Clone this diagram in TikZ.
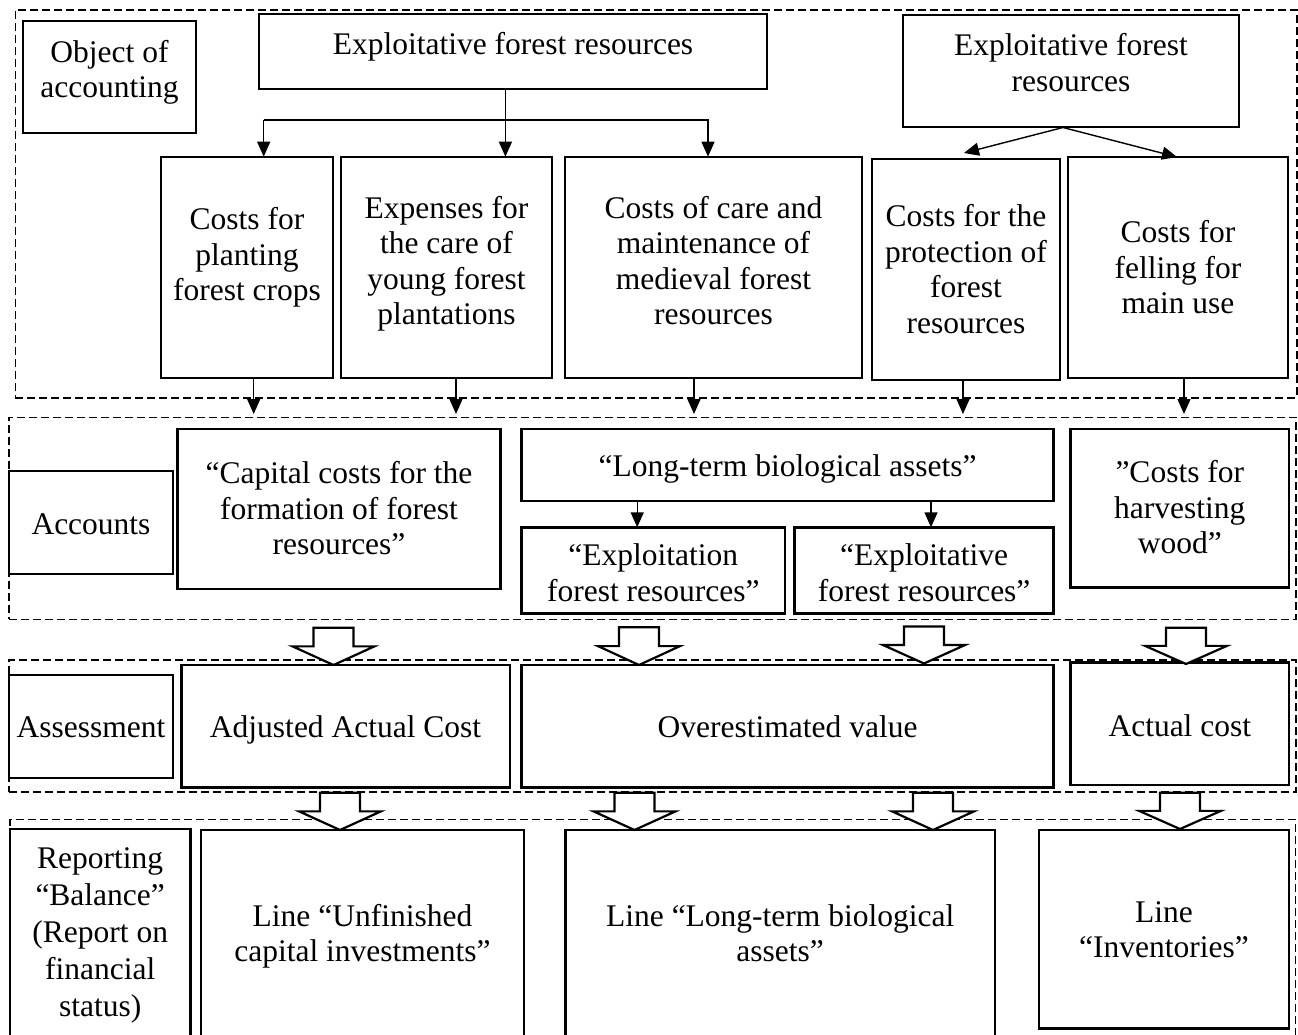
\documentclass[tikz,border=0pt]{standalone}
\usepackage{fontspec}
\setmainfont{Liberation Serif}
\usetikzlibrary{arrows.meta}
\newcommand\mainsz{\fontsize{31.5}{35.5}\selectfont}
\newcommand\repsz{\fontsize{31.5}{37}\selectfont}
% \bx[style]{name}{x1}{y1}{x2}{y2}
\newcommand\bx[6][box]{\node[#1,minimum width={#5-#3},minimum height={#6-#4}] (#2) at ({(#3+#5)/2},{(#4+#6)/2}) {};}
% \blk{cx}{top}{tip}
\newcommand\blk[3]{\draw[blkarr] ({#1-20},#2) -- ({#1+20},#2) -- ({#1+20},{(#2+#3)/2}) -- ({#1+41},{(#2+#3)/2}) -- (#1,#3) -- ({#1-41},{(#2+#3)/2}) -- ({#1-20},{(#2+#3)/2}) -- cycle;}
\begin{document}
\begin{tikzpicture}[x=1pt,y=-1pt,
  box/.style={draw, line width=2.2pt, fill=white, inner sep=0pt, outer sep=0pt},
  thickbox/.style={line width=2.7pt},
  frame/.style={draw, line width=1.6pt, dash pattern=on 8pt off 4pt, inner sep=0pt, outer sep=0pt},
  txt/.style={align=center, inner sep=0pt, font=\mainsz},
  arr/.style={line width=1.4pt, -{Triangle[length=15pt,width=13pt]}},
  blkarr/.style={draw, line width=2.2pt, fill=white, line join=miter},
]
\useasboundingbox (0,0) rectangle (1298,1035);
\clip (0,0) rectangle (1298,1035);
\fill[white] (0,0) rectangle (1298,1035);

% dashed section frames
\bx[frame]{sec1}{15.3}{10}{1296.7}{398}
\bx[frame]{sec2}{9}{417.3}{1296}{619.3}
\bx[frame]{sec3}{9}{660}{1296}{791.7}
\bx[frame]{sec4}{10}{819.3}{1295.5}{1070}

% section 1 boxes
\bx{obj}{23.2}{21}{195.7}{133.3}
\bx{top1}{259}{14}{767}{89.3}
\bx{top2}{903}{14.7}{1239}{126.7}
\bx{plant}{161}{156.7}{333}{378.3}
\bx{exp}{341}{156.7}{552}{378.3}
\bx{care}{565}{156.7}{862}{378.3}
\bx[box,thickbox]{prot}{872}{159}{1060}{380}
\bx{fell}{1068}{157}{1288}{378}

% section 2 boxes
\bx{acc}{9}{471}{173.3}{574.3}
\bx[box,thickbox]{cap}{177.4}{429}{500.4}{589}
\bx[box,thickbox]{ltb}{521.6}{429}{1053.7}{501}
\bx[box,thickbox]{expl}{521.6}{527.3}{785}{613.3}
\bx[box,thickbox]{explt}{794.6}{527.3}{1053.7}{613.3}
\bx[box,thickbox]{harv}{1070.7}{429}{1289}{587.7}

% section 3 boxes
\bx{ass}{9}{675}{173.3}{778.3}
\bx[box,thickbox]{adj}{181.2}{665}{510}{787.3}
\bx[box,thickbox]{over}{521.6}{665}{1053.7}{787.3}
\bx[box,thickbox]{act}{1070.7}{662.7}{1289}{785}

% section 4 boxes
\bx{rep}{10}{829.3}{190.4}{1070}
\bx[box,thickbox]{unf}{201}{830}{524}{1070}
\bx[box,thickbox]{ltl}{565.4}{830}{995}{1070}
\bx[box,thickbox]{inv}{1039}{830}{1289}{1028.3}

% texts
\node[txt] (objt) at (109.5,72.9) {\strut Object of\\\strut accounting};
\node[txt] (top1t) at (513,47.9) {\strut Exploitative forest resources};
\node[txt] (top2t) at (1071,66.2) {\strut Exploitative forest\\\strut resources};
\node[txt] (plantt) at (247,257.9) {\strut Costs for\\\strut planting\\\strut forest crops};
\node[txt] (expt) at (446.5,264.6) {\strut Expenses for\\\strut the care of\\\strut young forest\\\strut plantations};
\node[txt] (caret) at (713.5,264.6) {\strut Costs of care and\\\strut maintenance of\\\strut medieval forest\\\strut resources};
\node[txt] (prott) at (966,272.9) {\strut Costs for the\\\strut protection of\\\strut forest\\\strut resources};
\node[txt] (fellt) at (1178,271.2) {\strut Costs for\\\strut felling for\\\strut main use};
\node[txt] (acct) at (91,526.9) {\strut Accounts};
\node[txt] (capt) at (339,511.9) {\strut “Capital costs for the\\\strut formation of forest\\\strut resources”};
\node[txt] (ltbt) at (787.6,469.6) {\strut “Long-term biological assets”};
\node[txt] (explt1) at (653.3,576.6) {\strut “Exploitation\\\strut forest resources”};
\node[txt] (explt2) at (924.2,576.6) {\strut “Exploitative\\\strut forest resources”};
\node[txt] (harvt) at (1179.8,510.9) {\strut ”Costs for\\\strut harvesting\\\strut wood”};
\node[txt] (asst) at (91,730.2) {\strut Assessment};
\node[txt] (adjt) at (345.6,730.2) {\strut Adjusted Actual Cost};
\node[txt] (overt) at (787.6,730.2) {\strut Overestimated value};
\node[txt] (actt) at (1179.8,729) {\strut Actual cost};
\node[txt,font=\repsz] (rept) at (100.2,935.4) {\strut Reporting\\\strut “Balance”\\\strut (Report on\\\strut financial\\\strut status)};
\node[txt] (unft) at (362.5,937.1) {\strut Line “Unfinished\\\strut capital investments”};
\node[txt] (ltlt) at (780.2,937.1) {\strut Line “Long-term biological\\\strut assets”};
\node[txt] (invt) at (1164,932.9) {\strut Line\\\strut “Inventories”};

% connectors in section 1
\coordinate (hl) at (263.7,120);
\coordinate (hr) at (708,120);
\coordinate (stem) at (505.4,120);
\draw[arr] (top1.south -| stem) -- (exp.north -| stem);
\draw[arr] (hl) -- (plant.north -| hl);
\draw[arr] (hl) -- (hr) -- (care.north -| hr);
\coordinate (apex) at (1063,127.5);
\draw[arr] (apex) -- ([xshift=-2pt,yshift=6pt]prot.north);
\draw[arr] (apex) -- ([xshift=-1pt]fell.north);

% arrows from section 1 to section 2
\coordinate (d1) at (253.7,414);
\coordinate (d2) at (456,414);
\coordinate (d3) at (694,414);
\coordinate (d4) at (963,414);
\coordinate (d5) at (1184,414);
\draw[arr] (plant.south -| d1) -- (d1);
\draw[arr] (exp.south -| d2) -- (d2);
\draw[arr] (care.south -| d3) -- (d3);
\draw[arr] (prot.south -| d4) -- (d4);
\draw[arr] (fell.south -| d5) -- (d5);

% arrows inside section 2
\coordinate (e1) at (637.2,500);
\coordinate (e2) at (931,500);
\draw[arr] (ltb.south -| e1) -- (expl.north -| e1);
\draw[arr] (ltb.south -| e2) -- (explt.north -| e2);

% block arrows
\blk{333.5}{627.7}{665}
\blk{639}{627.2}{665}
\blk{924}{626.5}{663.5}
\blk{1186}{627.7}{664}
\blk{340}{792.7}{830}
\blk{634.5}{792.7}{830}
\blk{933}{792.7}{830}
\blk{1180}{792.7}{829}
\end{tikzpicture}
\end{document}
